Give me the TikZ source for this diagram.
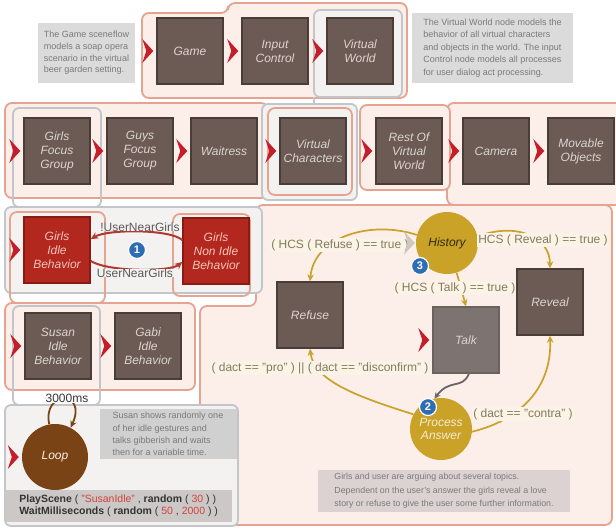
\documentclass[tikz,border=0pt]{standalone}
\usepackage{fontspec}
\setmainfont{Liberation Sans}
\usetikzlibrary{arrows.meta,calc}

\definecolor{frameedge}{HTML}{E6A38F}
\definecolor{framefill}{HTML}{FCEFEA}
\definecolor{grayedge}{HTML}{C2C5C9}
\definecolor{grayfill}{HTML}{F4F2F1}
\definecolor{nodefill}{HTML}{6C5B55}
\definecolor{nodeedge}{HTML}{4A3C37}
\definecolor{nodetext}{HTML}{DDD3CF}
\definecolor{talkfill}{HTML}{7D7370}
\definecolor{redfill}{HTML}{B2281E}
\definecolor{rededge}{HTML}{8A1B13}
\definecolor{redtext}{HTML}{F4C4BB}
\definecolor{chevred}{HTML}{C41E2A}
\definecolor{chevgray}{HTML}{CFC7C1}
\definecolor{notefill}{HTML}{DCDBDB}
\definecolor{notetext}{HTML}{7A7A7A}
\definecolor{gold}{HTML}{C9A227}
\definecolor{condtext}{HTML}{857A60}
\definecolor{condfill}{HTML}{FBF3E6}
\definecolor{badgeblue}{HTML}{2D6DB4}
\definecolor{loopbrown}{HTML}{7A4316}
\definecolor{edgered}{HTML}{B03A30}
\definecolor{codered}{HTML}{D0443C}
\definecolor{codefill}{HTML}{CBC8C7}
\definecolor{squiggle}{HTML}{6B6563}

\begin{document}
\begin{tikzpicture}[x=1pt,y=-1pt,
  sceneframe/.style={draw=frameedge, line width=1.8pt, fill=framefill, rounded corners=7pt},
  grayframe/.style={draw=grayedge, line width=1.8pt, fill=grayfill, rounded corners=6pt},
  scenenode/.style={rectangle, minimum width=66pt, minimum height=66pt, inner sep=1pt,
    fill=nodefill, draw=nodeedge, line width=1.4pt, text=nodetext,
    font=\itshape\fontsize{12}{14}\selectfont, align=center},
  rednode/.style={scenenode, fill=redfill, draw=rededge, text=redtext},
  talknode/.style={scenenode, fill=talkfill, draw=talkfill!85!black},
  goldcircle/.style={circle, minimum size=62pt, inner sep=0pt, fill=gold,
    font=\itshape\fontsize{12}{13}\selectfont, align=center},
  notebox/.style={rectangle, fill=notefill, text=notetext, inner sep=3pt, align=left,
    font=\fontsize{9}{11.6}\selectfont},
  condlabel/.style={rectangle, fill=condfill, text=condtext, inner sep=1pt,
    font=\fontsize{12}{14}\selectfont},
  guardlabel/.style={rectangle, fill=grayfill, text=black!65, inner xsep=0.5pt, inner ysep=0pt,
    font=\fontsize{12}{14}\selectfont},
  badgenode/.style={circle, minimum size=17pt, inner sep=0pt, fill=badgeblue, draw=white,
    line width=1.2pt, text=white, font=\bfseries\fontsize{11}{11}\selectfont},
  goldedge/.style={draw=gold, line width=1.7pt, -{Stealth[length=7pt,width=6.5pt]}},
  rededgestyle/.style={draw=edgered, line width=2pt, -{Stealth[length=7.5pt,width=7pt]}},
  startmark/.pic={\fill[#1] (-6,-12) -- (5,0) -- (-6,12) -- (-2,0) -- cycle;}
]
\useasboundingbox (0,0) rectangle (616,528);
\fill[white] (0,0) rectangle (616,528);

% ---------- supernode frames ----------
% top level
\draw[sceneframe] (142,13) -- (228,13) -- (228,3) -- (407,3) -- (407,98) -- (142,98) -- cycle;
\draw[grayframe] (314,10) rectangle (402,97);
\draw[grayedge, line width=1.8pt] (314,97) -- (314,105);

% virtual world level
\draw[sceneframe] (5,103) rectangle (268,198);
\draw[grayframe] (262,104) rectangle (357,200);
\draw[sceneframe] (447,103) rectangle (624,205);
\draw[sceneframe] (360,105) rectangle (450,190);
\draw[sceneframe, fill=none] (268,108) rectangle (352,195);
\draw[draw=grayedge, line width=1.8pt, rounded corners=6pt] (13,108) rectangle (101,207);

% girls focus group level
\draw[sceneframe] (200,525) -- (200,306) -- (256,306) -- (256,205) -- (612,205) -- (612,525) -- cycle;
\draw[grayframe] (5,207) rectangle (262,293);
\draw[sceneframe, fill=none] (10,212) rectangle (105,303);
\draw[sceneframe, fill=none] (173,214) rectangle (250,296);

% girls idle level
\draw[sceneframe] (5,303) rectangle (195,390);
\draw[draw=grayedge, line width=1.8pt, rounded corners=6pt] (13,306) rectangle (100,405);
\draw[grayframe] (5,405) rectangle (238,526);

% ---------- notes ----------
\node[notebox, minimum width=97pt, minimum height=60pt] (gamenote) at (86.5,53)
  {The Game sceneflow\\models a soap opera\\scenario in the virtual\\beer garden setting.};
\node[notebox, minimum width=161pt, minimum height=70pt, font=\fontsize{9}{12.6}\selectfont] (worldnote) at (492.5,48)
  {The Virtual World node models the\\behavior of all virtual characters\\and objects in the world. The input\\Control node models all processes\\for user dialog act processing.};

% ---------- top level nodes ----------
\node[scenenode] (game) at (190,51) {Game};
\node[scenenode] (input) at (275,51) {Input\\Control};
\node[scenenode] (world) at (360,51) {Virtual\\World};

% ---------- virtual world nodes ----------
\node[scenenode] (girlsfg) at (57,151) {Girls\\Focus\\Group};
\node[scenenode] (guysfg) at (140,151) {Guys\\Focus\\Group};
\node[scenenode] (waitress) at (224,151) {Waitress};
\node[scenenode] (vchars) at (313,151) {Virtual\\Characters};
\node[scenenode] (restworld) at (409,151) {Rest Of\\Virtual\\World};
\node[scenenode] (camera) at (496,151) {Camera};
\node[scenenode] (movable) at (581,151) {Movable\\Objects};

% ---------- girls focus group nodes ----------
\node[rednode] (gidle) at (57,250) {Girls\\Idle\\Behavior};
\node[rednode] (gnonidle) at (216,251) {Girls\\Non Idle\\Behavior};

\draw[rededgestyle] (gnonidle.162) .. controls (170,229) and (108,229) .. (gidle.18);
\draw[rededgestyle] (gidle.-18) .. controls (108,272) and (170,272) .. (gnonidle.198);
\node[guardlabel] (notnear) at (140,227) {!UserNearGirls};
\node[guardlabel] (near) at (135,273) {UserNearGirls};
\node[badgenode] (badgeone) at (137,250) {1};

% ---------- girls idle nodes ----------
\node[scenenode] (susan) at (58,346) {Susan\\Idle\\Behavior};
\node[scenenode] (gabi) at (148,346) {Gabi\\Idle\\Behavior};

% ---------- susan idle level ----------
\node[circle, minimum size=66pt, inner sep=0pt, fill=loopbrown, text=white!88!orange,
  font=\itshape\fontsize{12}{14}\selectfont] (loop) at (55,457) {Loop};
\draw[draw=loopbrown, line width=1.8pt, -{Stealth[length=7pt,width=6.5pt]}]
  (loop.100) .. controls (42,390) and (88,390) .. (loop.62);
\node[fill=white!96!gray, inner sep=1pt, text=black!78, font=\fontsize{12}{14}\selectfont] (delay) at (67,398) {3000ms};
\node[notebox, fill=notefill!95!black, minimum width=137pt, minimum height=48pt,
  font=\fontsize{9}{12.3}\selectfont] (loopnote) at (168,434)
  {Susan shows randomly one\\of her idle gestures and\\talks gibberish and waits\\then for a variable time.};
\node[rectangle, fill=codefill, minimum width=227pt, minimum height=32pt, inner sep=2pt,
  align=left, text=black!80, font=\fontsize{10.5}{12.4}\selectfont, anchor=west] (code) at (5,506)
  {\textbf{PlayScene} ( {\color{codered}"SusanIdle"} , \textbf{random} ( {\color{codered}30} ) )\\
   \textbf{WaitMilliseconds} ( \textbf{random} ( {\color{codered}50} , {\color{codered}2000} ) )};

% ---------- girls non idle level ----------
\node[goldcircle, text=black!75!gold] (history) at (447,243) {History};
\node[scenenode] (refuse) at (310,315) {Refuse};
\node[talknode] (talk) at (466,340) {Talk};
\node[scenenode] (reveal) at (550,302) {Reveal};
\node[goldcircle, text=white!80!gold] (answer) at (441,429) {Process\\Answer};

\draw[goldedge] (history.165) .. controls (372,220) and (314,236) .. (refuse.north);
\draw[goldedge] (history.12) .. controls (515,222) and (550,236) .. (reveal.north);
\draw[goldedge] (history.-72) -- (talk.north);
\draw[goldedge] (answer.152) .. controls (362,398) and (314,382) .. (refuse.south);
\draw[goldedge] (answer.-5) .. controls (520,420) and (552,388) .. (reveal.south);
\draw[draw=squiggle, line width=1.8pt, -{Stealth[length=6pt,width=6pt]}]
  (talk.-85) .. controls (462,390) and (450,378) .. (answer.102);

\node[condlabel] (refusecond) at (340,245) {( HCS ( Refuse ) == true )};
\node[condlabel] (revealcond) at (543,240) {HCS ( Reveal ) == true )};
\node[condlabel] (talkcond) at (455,288) {( HCS ( Talk ) == true )};
\node[condlabel] (procond) at (320,368) {( dact == "pro" ) || ( dact == "disconfirm" )};
\node[condlabel] (contracond) at (523,414) {( dact == "contra" )};

\node[badgenode] (badgethree) at (420,266) {3};
\node[badgenode] (badgetwo) at (428,407) {2};

\node[notebox, fill=notefill!96!red, minimum width=252pt, minimum height=42pt,
  font=\fontsize{8.8}{13.4}\selectfont] (topicnote) at (444,491)
  {Girls and user are arguing about several topics.\\Dependent on the user's answer the girls reveal a love\\story or refuse to give the user some further information.};

% ---------- start markers ----------
\foreach \n in {game,input,world,girlsfg,guysfg,waitress,vchars,restworld,camera,movable,gidle,susan,gabi,loop,talk}
  \pic at ([xshift=-8pt]\n.west) {startmark=chevred};
\pic at ([xshift=-6pt]history.west) {startmark=chevgray};
\end{tikzpicture}
\end{document}
